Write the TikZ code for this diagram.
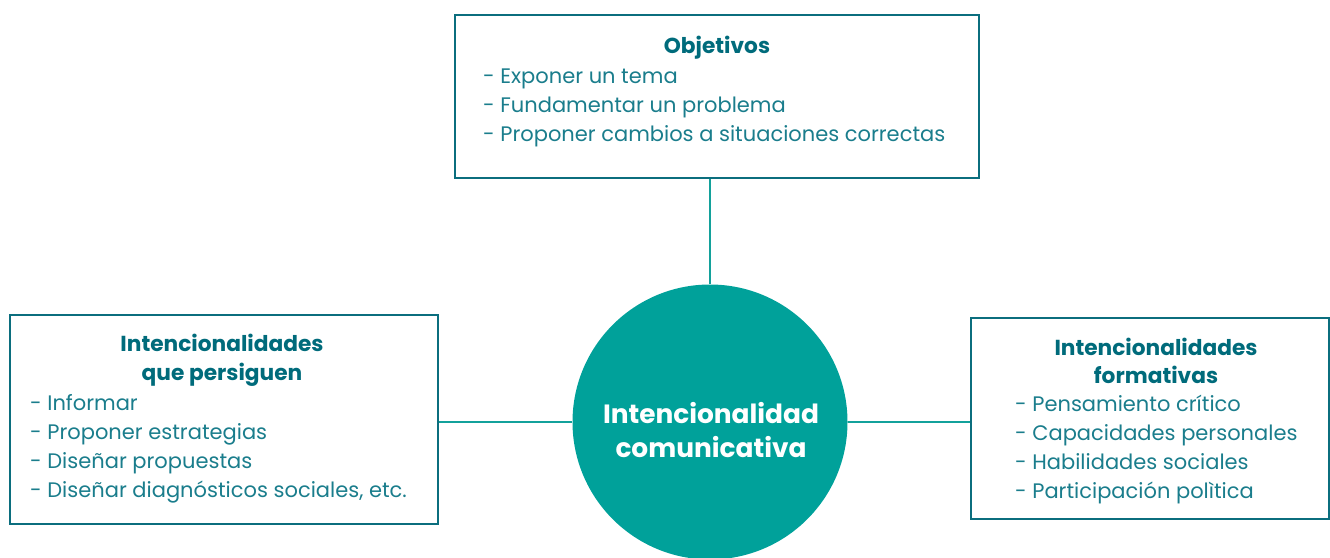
\documentclass[tikz,border=0pt]{standalone}
\usepackage{fontspec}
\setmainfont{Poppins}
\definecolor{boxline}{HTML}{0B6E7E}
\definecolor{titlecol}{HTML}{006B7B}
\definecolor{itemcol}{HTML}{1A7D8C}
\definecolor{circfill}{HTML}{00A19A}
\definecolor{linkcol}{HTML}{13A19B}
\tikzset{
  box/.style={draw=boxline, line width=2.4pt, rectangle, inner sep=0pt},
  ttl/.style={font=\fontsize{21.7}{28.5}\selectfont\bfseries, text=titlecol, align=center, inner sep=0pt},
  itm/.style={font=\fontsize{21}{29}\selectfont, text=itemcol, align=left, anchor=north west, inner sep=0pt},
  link/.style={draw=linkcol, line width=2pt},
}
\begin{document}
\begin{tikzpicture}[x=1pt,y=-1pt]
\useasboundingbox (0,0) rectangle (1330,557);
\clip (0,0) rectangle (1330,557);
% boxes
\node[box, minimum width=524pt, minimum height=163pt] (top) at (717,96.5) {};
\node[box, minimum width=428pt, minimum height=209pt] (left) at (224,419.5) {};
\node[box, minimum width=358pt, minimum height=201pt] (right) at (1150,418.5) {};
% circle
\node[circle, fill=circfill, minimum size=275pt, inner sep=0pt] (c) at (710,422) {};
\node[font=\fontsize{26.4}{34}\selectfont\bfseries, text=white, align=center] (ctext) at (711,430) {Intencionalidad\\comunicativa};
% connectors
\draw[link] (c.north) -- (c.north |- top.south);
\draw[link] (c.west) -- (c.west -| left.east);
\draw[link] (c.east) -- (c.east -| right.west);
% top box text
\node[ttl] (toptitle) at (717,48) {Objetivos};
\node[itm] (topitems) at (483,68.5) {- Exponer un tema\\- Fundamentar un problema\\- Proponer cambios a situaciones correctas};
% left box text
\node[ttl] (lefttitle) at (222,360.5) {Intencionalidades\\que persiguen};
\node[itm] (leftitems) at (30,394.5) {- Informar\\- Proponer estrategias\\- Diseñar propuestas\\- Diseñar diagnósticos sociales, etc.};
% right box text
\node[ttl] (righttitle) at (1156,361) {Intencionalidades\\formativas};
\node[itm] (rightitems) at (1015,394.5) {- Pensamiento crítico\\- Capacidades personales\\- Habilidades sociales\\- Participación polìtica};
\end{tikzpicture}
\end{document}
